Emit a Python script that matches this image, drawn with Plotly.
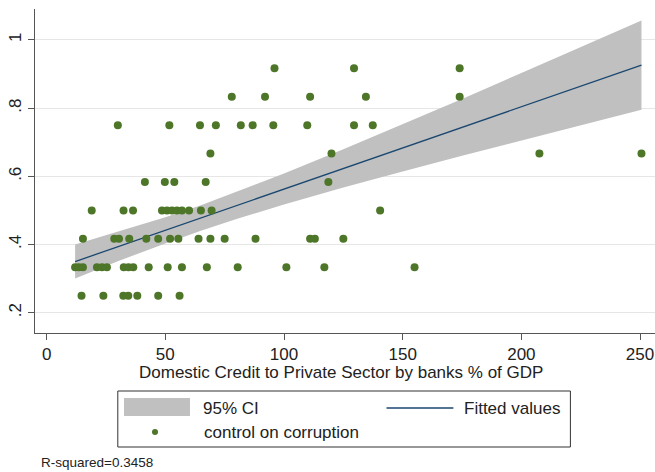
import plotly.graph_objects as go

# ---- data ----
credit_917 = [96.0, 129.5, 174.0]
credit_833 = [78.0, 92.0, 111.0, 134.5, 174.0]
credit_750 = [30.0, 51.7, 64.6, 71.3, 81.8, 86.8, 95.5, 109.8, 129.5, 137.4]
credit_667 = [69.0, 120.0, 207.6, 250.6]
credit_583 = [41.4, 49.8, 53.8, 67.0, 118.7]
credit_500 = [19.0, 32.4, 36.4, 48.6, 50.7, 52.8, 54.9, 57.0, 60.0, 65.0, 69.5, 140.5]
credit_417 = [15.3, 28.5, 30.5, 34.8, 42.0, 47.0, 52.0, 55.5, 64.0, 69.0, 75.0, 88.0, 111.0, 113.0, 125.0]
credit_333 = [12.0, 13.6, 15.3, 21.2, 23.3, 25.4, 32.5, 34.5, 36.5, 43.0, 51.0, 57.0, 67.5, 80.5, 101.0, 117.0, 155.0]
credit_250 = [14.7, 23.9, 32.3, 34.4, 38.2, 47.0, 56.0]

control_levels = [0.917, 0.833, 0.75, 0.667, 0.583, 0.5, 0.417, 0.333, 0.25]
credit_groups = [credit_917, credit_833, credit_750, credit_667, credit_583,
                 credit_500, credit_417, credit_333, credit_250]

# fitted line and 95% CI band
fit_x = [12.0, 250.6]
fit_y = [0.350, 0.926]
ci_x = [12.0, 30.0, 50.0, 65.0, 80.0, 100.0, 125.0, 150.0, 175.0, 200.0, 225.0, 250.6]
ci_lo = [0.300, 0.351, 0.403, 0.440, 0.475, 0.517, 0.567, 0.614, 0.660, 0.705, 0.750, 0.795]
ci_hi = [0.400, 0.437, 0.480, 0.515, 0.554, 0.608, 0.679, 0.752, 0.827, 0.903, 0.979, 1.057]

x_ticks = [0, 50, 100, 150, 200, 250]
y_ticks = [0.2, 0.4, 0.6, 0.8, 1.0]
y_ticktext = [".2", ".4", ".6", ".8", "1"]

x_title = "Domestic Credit to Private Sector by banks % of GDP"
legend_labels = ["95% CI", "Fitted values", "control on corruption"]
r2_text = "R-squared=0.3458"

# ---- build arrays ----
xs, ys = [], []
for lvl, grp in zip(control_levels, credit_groups):
    xs += grp
    ys += [lvl] * len(grp)

GREEN = "#4d7628"
NAVY = "#1a476f"
CIGRAY = "#c0c0c0"
FONT = "Liberation Sans, Arial, sans-serif"

fig = go.Figure()
fig.add_trace(go.Scatter(x=ci_x + ci_x[::-1], y=ci_hi + ci_lo[::-1],
                         fill="toself", fillcolor=CIGRAY, line=dict(width=0),
                         mode="lines", hoverinfo="skip", showlegend=False))
fig.add_trace(go.Scatter(x=fit_x, y=fit_y, mode="lines", line=dict(color=NAVY, width=1.3),
                         showlegend=False))
fig.add_trace(go.Scatter(x=xs, y=ys, mode="markers",
                         marker=dict(color=GREEN, size=8, line=dict(width=0)),
                         showlegend=False))

W, H = 655, 472
L, R, T, B = 35, 0, 9, 139
pw, ph = W - L - R, H - T - B


def px(xp):
    return (xp - L) / pw


def py(yp):
    return (H - B - yp) / ph


fig.update_layout(
    width=W, height=H,
    margin=dict(l=L, r=R, t=T, b=B),
    paper_bgcolor="white", plot_bgcolor="white",
    font=dict(family=FONT, size=17, color="#222"),
    xaxis=dict(range=[-4.9, 256.3], tickvals=x_ticks, ticks="outside", ticklen=6,
               tickcolor="#555", showline=True, linecolor="#555", linewidth=1,
               showgrid=False, zeroline=False, tickfont=dict(size=17, color="#222")),
    yaxis=dict(range=[0.1405, 1.0906], tickvals=y_ticks, ticktext=y_ticktext,
               tickangle=-90, ticks="outside", ticklen=6, tickcolor="#555",
               showline=True, linecolor="#555", linewidth=1,
               showgrid=True, gridcolor="#e6e6e6", gridwidth=1, zeroline=False,
               tickfont=dict(size=17, color="#222")),
)

shapes = [
    dict(type="rect", xref="paper", yref="paper", x0=px(117.8), x1=px(570.4),
         y0=py(447), y1=py(391), line=dict(color="#333", width=1), fillcolor="white"),
    dict(type="rect", xref="paper", yref="paper", x0=px(124), x1=px(190),
         y0=py(416), y1=py(398), line=dict(width=0), fillcolor=CIGRAY),
    dict(type="line", xref="paper", yref="paper", x0=px(386.5), x1=px(453.4),
         y0=py(408), y1=py(408), line=dict(color=NAVY, width=1.3)),
    dict(type="circle", xref="paper", yref="paper", x0=px(152), x1=px(158),
         y0=py(435), y1=py(429), line=dict(width=0), fillcolor=GREEN),
]
fig.update_layout(shapes=shapes)

ann = [
    dict(text=x_title, x=px(341), y=py(372), font=dict(size=17)),
    dict(text=legend_labels[0], x=px(200.7), y=py(408), xanchor="left", font=dict(size=17)),
    dict(text=legend_labels[1], x=px(461.8), y=py(408), xanchor="left", font=dict(size=17)),
    dict(text=legend_labels[2], x=px(202), y=py(432), xanchor="left", font=dict(size=17)),
    dict(text=r2_text, x=px(39), y=py(462), xanchor="left", font=dict(size=13.5)),
]
for d in ann:
    d.setdefault("xanchor", "center")
    fig.add_annotation(xref="paper", yref="paper", yanchor="middle", showarrow=False, **d)

fig.write_html("out.html")
